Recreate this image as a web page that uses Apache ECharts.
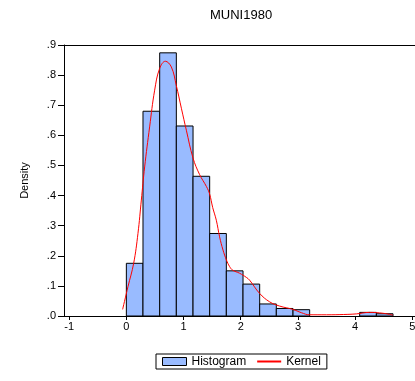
<!DOCTYPE html>
<html>
<head>
<meta charset="utf-8">
<script src="https://cdn.jsdelivr.net/npm/echarts@6/dist/echarts.min.js"></script>
<style>html,body{margin:0;padding:0;background:#fff}#c{width:415px;height:381px}</style>
</head>
<body>
<div id="c"></div>
<script>
var binEdges = [0, 0.291, 0.583, 0.874, 1.166, 1.457, 1.748, 2.040, 2.331, 2.622, 2.914, 3.205, 3.497, 3.788, 4.079, 4.371, 4.662];
var histDensity = [0.175, 0.680, 0.874, 0.631, 0.464, 0.274, 0.150, 0.106, 0.040, 0.025, 0.021, 0, 0, 0, 0.012, 0.0075];
var kernelX = [-0.065, 0.028, 0.128, 0.203, 0.262, 0.32, 0.407, 0.495, 0.582, 0.682, 0.787, 0.874, 0.962, 1.049, 1.165, 1.28, 1.40, 1.456, 1.51, 1.573, 1.63, 1.69, 1.75, 1.806, 1.86, 1.98, 2.1, 2.155, 2.33, 2.505, 2.68, 2.91, 3.06, 3.2, 3.5, 3.8, 4.02, 4.25, 4.49, 4.66];
var kernelY = [0.022, 0.097, 0.175, 0.274, 0.385, 0.495, 0.628, 0.75, 0.822, 0.846, 0.827, 0.765, 0.69, 0.617, 0.525, 0.47, 0.43, 0.405, 0.36, 0.318, 0.263, 0.219, 0.186, 0.164, 0.152, 0.142, 0.128, 0.119, 0.075, 0.047, 0.033, 0.022, 0.011, 0.004, 0.004, 0.005, 0.007, 0.012, 0.009, 0.003];
var xTicks = [-1, 0, 1, 2, 3, 4, 5];

var histData = histDensity.map(function (d, i) { return [binEdges[i], binEdges[i + 1], d]; });
var kernelData = kernelX.map(function (x, i) { return [x, kernelY[i]]; });

var FONT = 'Liberation Sans, Arial, sans-serif';
var XMIN = -1.09, XMAX = 5.099;
var chart = echarts.init(document.getElementById('c'), null, {renderer: 'canvas'});
chart.setOption({
  animation: false,
  backgroundColor: '#fff',
  title: {
    text: 'MUNI1980', left: 210, top: 9, padding: 0,
    textStyle: {fontFamily: FONT, fontSize: 13, fontWeight: 'normal', color: '#000'}
  },
  grid: {left: 64, top: 45, width: 354, height: 271, show: false, outerBoundsMode: 'none', containLabel: false},
  legend: {
    left: 156, top: 354, padding: [1, 6, 1, 6], itemGap: 10, itemWidth: 24, itemHeight: 8,
    borderColor: '#000', borderWidth: 1, borderRadius: 0,
    textStyle: {fontFamily: FONT, fontSize: 12, color: '#000', lineHeight: 13},
    data: [
      {name: 'Histogram', icon: 'rect', itemStyle: {color: '#99bbff', borderColor: '#000', borderWidth: 1}},
      {name: 'Kernel', itemStyle: {opacity: 0}}
    ]
  },
  xAxis: [{
    type: 'value', min: XMIN, max: XMAX,
    splitLine: {show: false},
    axisLine: {show: true, onZero: false, lineStyle: {color: '#000', width: 1}},
    axisTick: {show: true, length: 4, lineStyle: {color: '#000'}, customValues: xTicks},
    axisLabel: {fontFamily: FONT, fontSize: 11, color: '#000', margin: 5, customValues: xTicks, formatter: function (v) { return String(v); }}
  }, {
    type: 'value', position: 'top', min: XMIN, max: XMAX,
    splitLine: {show: false},
    axisLine: {show: true, onZero: false, lineStyle: {color: '#000', width: 1}},
    axisTick: {show: false}, axisLabel: {show: false}
  }],
  yAxis: {
    type: 'value', min: 0, max: 0.9, interval: 0.1,
    name: 'Density', nameLocation: 'middle', nameGap: 34, nameRotate: 90,
    nameTextStyle: {fontFamily: FONT, fontSize: 11, color: '#000'},
    splitLine: {show: false},
    axisLine: {show: true, onZero: false, lineStyle: {color: '#000', width: 1}},
    axisTick: {show: true, length: 6, lineStyle: {color: '#000'}},
    axisLabel: {fontFamily: FONT, fontSize: 11, color: '#000', margin: 8, formatter: function (v) { return v.toFixed(1).replace(/^0/, ''); }}
  },
  series: [
    {
      name: 'Histogram', type: 'custom',
      itemStyle: {color: '#99bbff'},
      renderItem: function (params, api) {
        var p0 = api.coord([api.value(0), 0]);
        var p1 = api.coord([api.value(1), api.value(2)]);
        if (api.value(2) <= 0) return null;
        return {
          type: 'rect',
          shape: {x: p0[0], y: p1[1], width: p1[0] - p0[0], height: p0[1] - p1[1]},
          style: {fill: '#99bbff', stroke: '#000', lineWidth: 1}
        };
      },
      encode: {x: [0, 1], y: 2},
      data: histData, z: 2
    },
    {
      name: 'Kernel', type: 'line', smooth: 0.4, symbol: 'none',
      color: '#ff0000',
      lineStyle: {color: '#ff0000', width: 1}, itemStyle: {color: '#ff0000'},
      data: kernelData, z: 3
    }
  ]
});
</script>
</body>
</html>
